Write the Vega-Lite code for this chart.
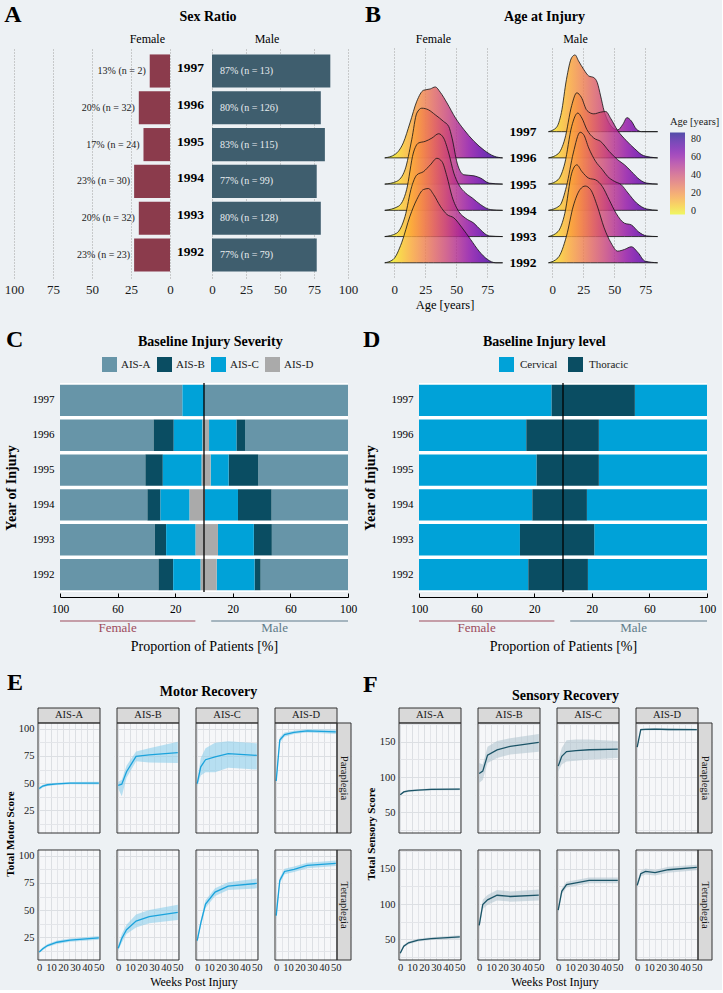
{
"$schema":"https://vega.github.io/schema/vega-lite/v6.json",
"background":"#edf1f4",
"padding":{"left":3,"top":3,"right":2,"bottom":2},
"config":{"font":"Liberation Serif","view":{"stroke":null},"axis":{"labelColor":"#1a1a1a","titleColor":"#000000"},"title":{"color":"#000000"},"legend":{"labelColor":"#1a1a1a","titleColor":"#1a1a1a"}},
"datasets":{
"dummy":[{"k":1}],
"sex":[
{"year":"1997","sex":"Female","pct":13,"label":"13% (n = 2)"},{"year":"1997","sex":"Male","pct":87,"label":"87% (n = 13)"},
{"year":"1996","sex":"Female","pct":20,"label":"20% (n = 32)"},{"year":"1996","sex":"Male","pct":80,"label":"80% (n = 126)"},
{"year":"1995","sex":"Female","pct":17,"label":"17% (n = 24)"},{"year":"1995","sex":"Male","pct":83,"label":"83% (n = 115)"},
{"year":"1994","sex":"Female","pct":23,"label":"23% (n = 30)"},{"year":"1994","sex":"Male","pct":77,"label":"77% (n = 99)"},
{"year":"1993","sex":"Female","pct":20,"label":"20% (n = 32)"},{"year":"1993","sex":"Male","pct":80,"label":"80% (n = 128)"},
{"year":"1992","sex":"Female","pct":23,"label":"23% (n = 23)"},{"year":"1992","sex":"Male","pct":77,"label":"77% (n = 79)"}
],
"ridge":[
{"sex":"M","year":1997,"age":-3,"top":1997},{"sex":"M","year":1997,"age":3.3,"top":1997.153},{"sex":"M","year":1997,"age":7.4,"top":1997.725},{"sex":"M","year":1997,"age":11.5,"top":1998.997},{"sex":"M","year":1997,"age":15.7,"top":1999.824},{"sex":"M","year":1997,"age":18.4,"top":1999.926},{"sex":"M","year":1997,"age":21.2,"top":1999.697},{"sex":"M","year":1997,"age":25.3,"top":1999.379},{"sex":"M","year":1997,"age":29.4,"top":1999.125},{"sex":"M","year":1997,"age":33.5,"top":1999.061},{"sex":"M","year":1997,"age":36.3,"top":1998.87},{"sex":"M","year":1997,"age":39,"top":1998.361},{"sex":"M","year":1997,"age":41.8,"top":1997.789},{"sex":"M","year":1997,"age":44.5,"top":1997.445},{"sex":"M","year":1997,"age":48.6,"top":1997.153},{"sex":"M","year":1997,"age":52.7,"top":1997.064},{"sex":"M","year":1997,"age":56.9,"top":1997.28},{"sex":"M","year":1997,"age":60.2,"top":1997.534},{"sex":"M","year":1997,"age":63.7,"top":1997.407},{"sex":"M","year":1997,"age":67.9,"top":1997.089},{"sex":"M","year":1997,"age":72,"top":1997},{"sex":"M","year":1997,"age":84.9,"top":1997},
{"sex":"F","year":1996,"age":-7.6,"top":1996},{"sex":"F","year":1996,"age":0.5,"top":1996.127},{"sex":"F","year":1996,"age":7.3,"top":1996.571},{"sex":"F","year":1996,"age":12.7,"top":1997.333},{"sex":"F","year":1996,"age":18.2,"top":1998.159},{"sex":"F","year":1996,"age":23.6,"top":1998.578},{"sex":"F","year":1996,"age":29,"top":1998.629},{"sex":"F","year":1996,"age":33.1,"top":1998.705},{"sex":"F","year":1996,"age":37.1,"top":1998.502},{"sex":"F","year":1996,"age":42.5,"top":1998.095},{"sex":"F","year":1996,"age":49.3,"top":1997.524},{"sex":"F","year":1996,"age":56.1,"top":1997.079},{"sex":"F","year":1996,"age":64.2,"top":1996.635},{"sex":"F","year":1996,"age":72.4,"top":1996.292},{"sex":"F","year":1996,"age":80.5,"top":1996.063},{"sex":"F","year":1996,"age":87.3,"top":1996},
{"sex":"M","year":1996,"age":-3,"top":1996},{"sex":"M","year":1996,"age":4.7,"top":1996.153},{"sex":"M","year":1996,"age":10.2,"top":1996.725},{"sex":"M","year":1996,"age":15.7,"top":1997.997},{"sex":"M","year":1996,"age":19.8,"top":1998.481},{"sex":"M","year":1996,"age":23.4,"top":1998.316},{"sex":"M","year":1996,"age":28,"top":1997.807},{"sex":"M","year":1996,"age":33.5,"top":1997.679},{"sex":"M","year":1996,"age":39,"top":1997.743},{"sex":"M","year":1996,"age":43.1,"top":1997.768},{"sex":"M","year":1996,"age":47.3,"top":1997.489},{"sex":"M","year":1996,"age":52.7,"top":1997.043},{"sex":"M","year":1996,"age":59.6,"top":1996.662},{"sex":"M","year":1996,"age":66.5,"top":1996.344},{"sex":"M","year":1996,"age":73.4,"top":1996.089},{"sex":"M","year":1996,"age":84.9,"top":1996},
{"sex":"F","year":1995,"age":-7.6,"top":1995},{"sex":"F","year":1995,"age":1.9,"top":1995.102},{"sex":"F","year":1995,"age":8.7,"top":1995.546},{"sex":"F","year":1995,"age":14.1,"top":1996.689},{"sex":"F","year":1995,"age":18.2,"top":1997.705},{"sex":"F","year":1995,"age":22.2,"top":1997.895},{"sex":"F","year":1995,"age":27.6,"top":1997.832},{"sex":"F","year":1995,"age":33.1,"top":1997.641},{"sex":"F","year":1995,"age":39.8,"top":1997.387},{"sex":"F","year":1995,"age":43.9,"top":1997.197},{"sex":"F","year":1995,"age":46.6,"top":1996.752},{"sex":"F","year":1995,"age":50.7,"top":1995.8},{"sex":"F","year":1995,"age":56.1,"top":1995.356},{"sex":"F","year":1995,"age":64.2,"top":1995.317},{"sex":"F","year":1995,"age":69.6,"top":1995.229},{"sex":"F","year":1995,"age":76.4,"top":1995.038},{"sex":"F","year":1995,"age":87.3,"top":1995},
{"sex":"M","year":1995,"age":-3,"top":1995},{"sex":"M","year":1995,"age":4.7,"top":1995.165},{"sex":"M","year":1995,"age":10.2,"top":1995.802},{"sex":"M","year":1995,"age":15.7,"top":1997.201},{"sex":"M","year":1995,"age":20.6,"top":1997.71},{"sex":"M","year":1995,"age":23.9,"top":1997.519},{"sex":"M","year":1995,"age":28,"top":1997.074},{"sex":"M","year":1995,"age":33.5,"top":1996.756},{"sex":"M","year":1995,"age":39,"top":1996.628},{"sex":"M","year":1995,"age":45.9,"top":1996.247},{"sex":"M","year":1995,"age":52.7,"top":1995.929},{"sex":"M","year":1995,"age":58.2,"top":1995.738},{"sex":"M","year":1995,"age":63.7,"top":1995.483},{"sex":"M","year":1995,"age":70.6,"top":1995.165},{"sex":"M","year":1995,"age":76.1,"top":1995.038},{"sex":"M","year":1995,"age":84.9,"top":1995},
{"sex":"F","year":1994,"age":-7.6,"top":1994},{"sex":"F","year":1994,"age":3.3,"top":1994.152},{"sex":"F","year":1994,"age":10,"top":1994.787},{"sex":"F","year":1994,"age":15.4,"top":1996.184},{"sex":"F","year":1994,"age":19.5,"top":1996.565},{"sex":"F","year":1994,"age":24.9,"top":1996.629},{"sex":"F","year":1994,"age":30.4,"top":1996.756},{"sex":"F","year":1994,"age":35.8,"top":1996.921},{"sex":"F","year":1994,"age":39.8,"top":1996.756},{"sex":"F","year":1994,"age":43.9,"top":1996.184},{"sex":"F","year":1994,"age":48,"top":1995.422},{"sex":"F","year":1994,"age":52,"top":1994.978},{"sex":"F","year":1994,"age":57.5,"top":1994.66},{"sex":"F","year":1994,"age":62.9,"top":1994.47},{"sex":"F","year":1994,"age":69.6,"top":1994.216},{"sex":"F","year":1994,"age":77.8,"top":1994.025},{"sex":"F","year":1994,"age":87.3,"top":1994},
{"sex":"M","year":1994,"age":-3,"top":1994},{"sex":"M","year":1994,"age":6,"top":1994.178},{"sex":"M","year":1994,"age":11.5,"top":1994.916},{"sex":"M","year":1994,"age":17,"top":1996.188},{"sex":"M","year":1994,"age":22.5,"top":1996.977},{"sex":"M","year":1994,"age":25.3,"top":1996.888},{"sex":"M","year":1994,"age":29.4,"top":1996.379},{"sex":"M","year":1994,"age":34.9,"top":1995.87},{"sex":"M","year":1994,"age":40.4,"top":1995.552},{"sex":"M","year":1994,"age":44.5,"top":1995.298},{"sex":"M","year":1994,"age":50,"top":1995.107},{"sex":"M","year":1994,"age":55.5,"top":1994.98},{"sex":"M","year":1994,"age":61,"top":1994.662},{"sex":"M","year":1994,"age":67.9,"top":1994.28},{"sex":"M","year":1994,"age":76.1,"top":1994.051},{"sex":"M","year":1994,"age":84.9,"top":1994},
{"sex":"F","year":1993,"age":-7.6,"top":1993},{"sex":"F","year":1993,"age":1.9,"top":1993.127},{"sex":"F","year":1993,"age":8.7,"top":1993.762},{"sex":"F","year":1993,"age":14.1,"top":1994.905},{"sex":"F","year":1993,"age":18.2,"top":1995.349},{"sex":"F","year":1993,"age":23.6,"top":1995.476},{"sex":"F","year":1993,"age":29,"top":1995.73},{"sex":"F","year":1993,"age":34.4,"top":1995.984},{"sex":"F","year":1993,"age":38.5,"top":1995.857},{"sex":"F","year":1993,"age":42.5,"top":1995.286},{"sex":"F","year":1993,"age":46.6,"top":1994.524},{"sex":"F","year":1993,"age":52,"top":1993.952},{"sex":"F","year":1993,"age":57.5,"top":1993.698},{"sex":"F","year":1993,"age":64.2,"top":1993.508},{"sex":"F","year":1993,"age":69.6,"top":1993.254},{"sex":"F","year":1993,"age":76.4,"top":1993.025},{"sex":"F","year":1993,"age":87.3,"top":1993},
{"sex":"M","year":1993,"age":-3,"top":1993},{"sex":"M","year":1993,"age":4.7,"top":1993.191},{"sex":"M","year":1993,"age":10.2,"top":1993.891},{"sex":"M","year":1993,"age":15.7,"top":1995.417},{"sex":"M","year":1993,"age":19.8,"top":1995.735},{"sex":"M","year":1993,"age":23.9,"top":1995.481},{"sex":"M","year":1993,"age":29.4,"top":1995.226},{"sex":"M","year":1993,"age":34.9,"top":1995.163},{"sex":"M","year":1993,"age":40.4,"top":1994.908},{"sex":"M","year":1993,"age":45.9,"top":1994.399},{"sex":"M","year":1993,"age":51.4,"top":1993.891},{"sex":"M","year":1993,"age":58.2,"top":1993.509},{"sex":"M","year":1993,"age":63.7,"top":1993.445},{"sex":"M","year":1993,"age":69.2,"top":1993.191},{"sex":"M","year":1993,"age":76.1,"top":1993.025},{"sex":"M","year":1993,"age":84.9,"top":1993},
{"sex":"F","year":1992,"age":-7.6,"top":1992},{"sex":"F","year":1992,"age":-0.8,"top":1992.127},{"sex":"F","year":1992,"age":6,"top":1992.762},{"sex":"F","year":1992,"age":12.7,"top":1993.778},{"sex":"F","year":1992,"age":18.2,"top":1994.413},{"sex":"F","year":1992,"age":23.6,"top":1994.794},{"sex":"F","year":1992,"age":27.6,"top":1994.832},{"sex":"F","year":1992,"age":31.7,"top":1994.603},{"sex":"F","year":1992,"age":37.1,"top":1994.159},{"sex":"F","year":1992,"age":42.5,"top":1993.841},{"sex":"F","year":1992,"age":48,"top":1993.714},{"sex":"F","year":1992,"age":54.7,"top":1993.333},{"sex":"F","year":1992,"age":61.5,"top":1992.889},{"sex":"F","year":1992,"age":68.3,"top":1992.444},{"sex":"F","year":1992,"age":75.1,"top":1992.127},{"sex":"F","year":1992,"age":81.9,"top":1992},{"sex":"F","year":1992,"age":87.3,"top":1992},
{"sex":"M","year":1992,"age":-3,"top":1992},{"sex":"M","year":1992,"age":4.7,"top":1992.191},{"sex":"M","year":1992,"age":11.5,"top":1993.018},{"sex":"M","year":1992,"age":17,"top":1994.163},{"sex":"M","year":1992,"age":22.5,"top":1994.799},{"sex":"M","year":1992,"age":26.6,"top":1994.926},{"sex":"M","year":1992,"age":30.8,"top":1994.799},{"sex":"M","year":1992,"age":36.3,"top":1994.163},{"sex":"M","year":1992,"age":41.8,"top":1993.336},{"sex":"M","year":1992,"age":47.3,"top":1992.763},{"sex":"M","year":1992,"age":52.7,"top":1992.445},{"sex":"M","year":1992,"age":58.2,"top":1992.509},{"sex":"M","year":1992,"age":63.7,"top":1992.611},{"sex":"M","year":1992,"age":69.2,"top":1992.382},{"sex":"M","year":1992,"age":74.7,"top":1992.064},{"sex":"M","year":1992,"age":84.9,"top":1992}
],
"sev":[
{"year":"1997","sex":"F","level":"AIS-A","pct":-85},{"year":"1997","sex":"F","level":"AIS-C","pct":-15},{"year":"1997","sex":"M","level":"AIS-A","pct":100},
{"year":"1996","sex":"F","level":"AIS-A","pct":-65},{"year":"1996","sex":"F","level":"AIS-B","pct":-14},{"year":"1996","sex":"F","level":"AIS-C","pct":-20},{"year":"1996","sex":"F","level":"AIS-D","pct":-1},
{"year":"1996","sex":"M","level":"AIS-A","pct":71.5},{"year":"1996","sex":"M","level":"AIS-B","pct":6},{"year":"1996","sex":"M","level":"AIS-C","pct":19},{"year":"1996","sex":"M","level":"AIS-D","pct":3.5},
{"year":"1995","sex":"F","level":"AIS-A","pct":-59.3},{"year":"1995","sex":"F","level":"AIS-B","pct":-12.1},{"year":"1995","sex":"F","level":"AIS-C","pct":-27},{"year":"1995","sex":"F","level":"AIS-D","pct":-1.6},
{"year":"1995","sex":"M","level":"AIS-A","pct":62.3},{"year":"1995","sex":"M","level":"AIS-B","pct":20.6},{"year":"1995","sex":"M","level":"AIS-C","pct":12.5},{"year":"1995","sex":"M","level":"AIS-D","pct":4.6},
{"year":"1994","sex":"F","level":"AIS-A","pct":-60.7},{"year":"1994","sex":"F","level":"AIS-B","pct":-9.1},{"year":"1994","sex":"F","level":"AIS-C","pct":-20.2},{"year":"1994","sex":"F","level":"AIS-D","pct":-10},
{"year":"1994","sex":"M","level":"AIS-A","pct":53.1},{"year":"1994","sex":"M","level":"AIS-B","pct":23.3},{"year":"1994","sex":"M","level":"AIS-C","pct":22.9},{"year":"1994","sex":"M","level":"AIS-D","pct":0.7},
{"year":"1993","sex":"F","level":"AIS-A","pct":-65.8},{"year":"1993","sex":"F","level":"AIS-B","pct":-7.9},{"year":"1993","sex":"F","level":"AIS-C","pct":-20.5},{"year":"1993","sex":"F","level":"AIS-D","pct":-5.8},
{"year":"1993","sex":"M","level":"AIS-A","pct":52.9},{"year":"1993","sex":"M","level":"AIS-B","pct":12.5},{"year":"1993","sex":"M","level":"AIS-C","pct":24.9},{"year":"1993","sex":"M","level":"AIS-D","pct":9.7},
{"year":"1992","sex":"F","level":"AIS-A","pct":-68.4},{"year":"1992","sex":"F","level":"AIS-B","pct":-10.2},{"year":"1992","sex":"F","level":"AIS-C","pct":-19.1},{"year":"1992","sex":"F","level":"AIS-D","pct":-2.3},
{"year":"1992","sex":"M","level":"AIS-A","pct":60.7},{"year":"1992","sex":"M","level":"AIS-B","pct":4.2},{"year":"1992","sex":"M","level":"AIS-C","pct":26.3},{"year":"1992","sex":"M","level":"AIS-D","pct":8.8}
],
"lvl":[
{"year":"1997","sex":"F","region":"Cervical","pct":-92.1},{"year":"1997","sex":"F","region":"Thoracic","pct":-7.9},{"year":"1997","sex":"M","region":"Cervical","pct":50.1},{"year":"1997","sex":"M","region":"Thoracic","pct":49.9},
{"year":"1996","sex":"F","region":"Cervical","pct":-74.5},{"year":"1996","sex":"F","region":"Thoracic","pct":-25.5},{"year":"1996","sex":"M","region":"Cervical","pct":75.1},{"year":"1996","sex":"M","region":"Thoracic","pct":24.9},
{"year":"1995","sex":"F","region":"Cervical","pct":-81.7},{"year":"1995","sex":"F","region":"Thoracic","pct":-18.3},{"year":"1995","sex":"M","region":"Cervical","pct":75.1},{"year":"1995","sex":"M","region":"Thoracic","pct":24.9},
{"year":"1994","sex":"F","region":"Cervical","pct":-78.7},{"year":"1994","sex":"F","region":"Thoracic","pct":-21.3},{"year":"1994","sex":"M","region":"Cervical","pct":83.4},{"year":"1994","sex":"M","region":"Thoracic","pct":16.6},
{"year":"1993","sex":"F","region":"Cervical","pct":-70.1},{"year":"1993","sex":"F","region":"Thoracic","pct":-29.9},{"year":"1993","sex":"M","region":"Cervical","pct":78.3},{"year":"1993","sex":"M","region":"Thoracic","pct":21.7},
{"year":"1992","sex":"F","region":"Cervical","pct":-75.9},{"year":"1992","sex":"F","region":"Thoracic","pct":-24.1},{"year":"1992","sex":"M","region":"Cervical","pct":82.7},{"year":"1992","sex":"M","region":"Thoracic","pct":17.3}
],
"annot":[{"sex":"Female","from":-100,"to":-6,"mid":-60},{"sex":"Male","from":5,"to":100,"mid":49}],
"motor":[
{"a":"AIS-A","t":"Paraplegia","w":0,"m":45,"lo":43.5,"hi":46.5},{"a":"AIS-A","t":"Paraplegia","w":3,"m":47.3,"lo":46,"hi":48.6},{"a":"AIS-A","t":"Paraplegia","w":7,"m":48.5,"lo":47.3,"hi":49.7},{"a":"AIS-A","t":"Paraplegia","w":15,"m":49.3,"lo":48.2,"hi":50.4},{"a":"AIS-A","t":"Paraplegia","w":26,"m":50,"lo":48.9,"hi":51.1},{"a":"AIS-A","t":"Paraplegia","w":50,"m":50,"lo":48.8,"hi":51.2},
{"a":"AIS-B","t":"Paraplegia","w":0,"m":48,"lo":45,"hi":51},{"a":"AIS-B","t":"Paraplegia","w":3,"m":49,"lo":38,"hi":53},{"a":"AIS-B","t":"Paraplegia","w":7,"m":60.5,"lo":55,"hi":66},{"a":"AIS-B","t":"Paraplegia","w":15,"m":74.5,"lo":70,"hi":79},{"a":"AIS-B","t":"Paraplegia","w":26,"m":76,"lo":69,"hi":82},{"a":"AIS-B","t":"Paraplegia","w":50,"m":78,"lo":68.5,"hi":88},
{"a":"AIS-C","t":"Paraplegia","w":0,"m":49.5,"lo":47,"hi":52.5},{"a":"AIS-C","t":"Paraplegia","w":3,"m":65,"lo":57,"hi":73},{"a":"AIS-C","t":"Paraplegia","w":7,"m":71.5,"lo":60,"hi":82},{"a":"AIS-C","t":"Paraplegia","w":15,"m":74,"lo":60,"hi":87},{"a":"AIS-C","t":"Paraplegia","w":26,"m":77,"lo":64,"hi":88.5},{"a":"AIS-C","t":"Paraplegia","w":50,"m":75.5,"lo":62.5,"hi":86.5},
{"a":"AIS-D","t":"Paraplegia","w":0,"m":52,"lo":49,"hi":55},{"a":"AIS-D","t":"Paraplegia","w":3,"m":89.5,"lo":87,"hi":92},{"a":"AIS-D","t":"Paraplegia","w":7,"m":94.5,"lo":92.5,"hi":96.5},{"a":"AIS-D","t":"Paraplegia","w":15,"m":96.5,"lo":95,"hi":98},{"a":"AIS-D","t":"Paraplegia","w":26,"m":98,"lo":96.5,"hi":99.5},{"a":"AIS-D","t":"Paraplegia","w":50,"m":97,"lo":95,"hi":99},
{"a":"AIS-A","t":"Tetraplegia","w":0,"m":11.5,"lo":10.5,"hi":12.5},{"a":"AIS-A","t":"Tetraplegia","w":3,"m":14.5,"lo":13.2,"hi":15.8},{"a":"AIS-A","t":"Tetraplegia","w":7,"m":17.5,"lo":16.2,"hi":18.8},{"a":"AIS-A","t":"Tetraplegia","w":15,"m":20.5,"lo":19,"hi":22},{"a":"AIS-A","t":"Tetraplegia","w":26,"m":22.5,"lo":21,"hi":24},{"a":"AIS-A","t":"Tetraplegia","w":50,"m":24.5,"lo":22.8,"hi":26.2},
{"a":"AIS-B","t":"Tetraplegia","w":0,"m":15,"lo":13,"hi":17},{"a":"AIS-B","t":"Tetraplegia","w":3,"m":24,"lo":20,"hi":28},{"a":"AIS-B","t":"Tetraplegia","w":7,"m":32,"lo":28,"hi":36.5},{"a":"AIS-B","t":"Tetraplegia","w":15,"m":40,"lo":34,"hi":46},{"a":"AIS-B","t":"Tetraplegia","w":26,"m":44,"lo":38,"hi":50},{"a":"AIS-B","t":"Tetraplegia","w":50,"m":48,"lo":41,"hi":55},
{"a":"AIS-C","t":"Tetraplegia","w":0,"m":22,"lo":20,"hi":24.5},{"a":"AIS-C","t":"Tetraplegia","w":3,"m":38,"lo":35,"hi":41},{"a":"AIS-C","t":"Tetraplegia","w":7,"m":55.5,"lo":52,"hi":59},{"a":"AIS-C","t":"Tetraplegia","w":15,"m":66.5,"lo":63,"hi":70},{"a":"AIS-C","t":"Tetraplegia","w":26,"m":72,"lo":68.5,"hi":75.5},{"a":"AIS-C","t":"Tetraplegia","w":50,"m":74.5,"lo":70,"hi":79},
{"a":"AIS-D","t":"Tetraplegia","w":0,"m":45,"lo":41,"hi":49},{"a":"AIS-D","t":"Tetraplegia","w":3,"m":77.3,"lo":74.5,"hi":80},{"a":"AIS-D","t":"Tetraplegia","w":7,"m":85.5,"lo":83,"hi":88},{"a":"AIS-D","t":"Tetraplegia","w":15,"m":87.5,"lo":85,"hi":90},{"a":"AIS-D","t":"Tetraplegia","w":26,"m":91,"lo":88.5,"hi":93.5},{"a":"AIS-D","t":"Tetraplegia","w":50,"m":93,"lo":90.5,"hi":95.5}
],
"sensory":[
{"a":"AIS-A","t":"Paraplegia","w":0,"m":75,"lo":73.5,"hi":76.5},{"a":"AIS-A","t":"Paraplegia","w":3,"m":79,"lo":77.5,"hi":80.5},{"a":"AIS-A","t":"Paraplegia","w":7,"m":80.5,"lo":79,"hi":82},{"a":"AIS-A","t":"Paraplegia","w":15,"m":81.5,"lo":80,"hi":83},{"a":"AIS-A","t":"Paraplegia","w":26,"m":82.8,"lo":81.2,"hi":84.4},{"a":"AIS-A","t":"Paraplegia","w":50,"m":83,"lo":81.3,"hi":84.7},
{"a":"AIS-B","t":"Paraplegia","w":0,"m":105,"lo":92,"hi":120},{"a":"AIS-B","t":"Paraplegia","w":3,"m":108.5,"lo":96,"hi":118},{"a":"AIS-B","t":"Paraplegia","w":7,"m":131,"lo":120,"hi":143},{"a":"AIS-B","t":"Paraplegia","w":15,"m":138.5,"lo":127,"hi":151},{"a":"AIS-B","t":"Paraplegia","w":26,"m":143.5,"lo":132,"hi":155},{"a":"AIS-B","t":"Paraplegia","w":50,"m":149,"lo":136,"hi":161},
{"a":"AIS-C","t":"Paraplegia","w":0,"m":115.5,"lo":108,"hi":123},{"a":"AIS-C","t":"Paraplegia","w":3,"m":129.5,"lo":118,"hi":141},{"a":"AIS-C","t":"Paraplegia","w":7,"m":136,"lo":122,"hi":152},{"a":"AIS-C","t":"Paraplegia","w":15,"m":137.5,"lo":123,"hi":153},{"a":"AIS-C","t":"Paraplegia","w":26,"m":138.7,"lo":125,"hi":153},{"a":"AIS-C","t":"Paraplegia","w":50,"m":139.5,"lo":127,"hi":151},
{"a":"AIS-D","t":"Paraplegia","w":0,"m":142.5,"lo":140.5,"hi":144.5},{"a":"AIS-D","t":"Paraplegia","w":3,"m":167,"lo":165.5,"hi":168.5},{"a":"AIS-D","t":"Paraplegia","w":7,"m":167.5,"lo":166,"hi":169},{"a":"AIS-D","t":"Paraplegia","w":15,"m":167.8,"lo":166.3,"hi":169.3},{"a":"AIS-D","t":"Paraplegia","w":26,"m":167.3,"lo":165.8,"hi":168.8},{"a":"AIS-D","t":"Paraplegia","w":50,"m":167,"lo":165.5,"hi":168.5},
{"a":"AIS-A","t":"Tetraplegia","w":0,"m":30.5,"lo":28.5,"hi":32.5},{"a":"AIS-A","t":"Tetraplegia","w":3,"m":40.5,"lo":38.5,"hi":42.5},{"a":"AIS-A","t":"Tetraplegia","w":7,"m":45.3,"lo":43.3,"hi":47.3},{"a":"AIS-A","t":"Tetraplegia","w":15,"m":49,"lo":47,"hi":51},{"a":"AIS-A","t":"Tetraplegia","w":26,"m":51.3,"lo":49.3,"hi":53.3},{"a":"AIS-A","t":"Tetraplegia","w":50,"m":53.8,"lo":51.5,"hi":56},
{"a":"AIS-B","t":"Tetraplegia","w":0,"m":70,"lo":64,"hi":76},{"a":"AIS-B","t":"Tetraplegia","w":3,"m":99.5,"lo":93,"hi":106},{"a":"AIS-B","t":"Tetraplegia","w":7,"m":106,"lo":99,"hi":113},{"a":"AIS-B","t":"Tetraplegia","w":15,"m":112.5,"lo":105,"hi":120},{"a":"AIS-B","t":"Tetraplegia","w":26,"m":110.8,"lo":103.5,"hi":118},{"a":"AIS-B","t":"Tetraplegia","w":50,"m":112.8,"lo":105,"hi":120.5},
{"a":"AIS-C","t":"Tetraplegia","w":0,"m":91.5,"lo":87.5,"hi":95.5},{"a":"AIS-C","t":"Tetraplegia","w":3,"m":118,"lo":114,"hi":122},{"a":"AIS-C","t":"Tetraplegia","w":7,"m":127.5,"lo":123.5,"hi":131.5},{"a":"AIS-C","t":"Tetraplegia","w":15,"m":130,"lo":126,"hi":134},{"a":"AIS-C","t":"Tetraplegia","w":26,"m":133.5,"lo":129.5,"hi":137.5},{"a":"AIS-C","t":"Tetraplegia","w":50,"m":133.6,"lo":129.5,"hi":137.7},
{"a":"AIS-D","t":"Tetraplegia","w":0,"m":126.5,"lo":122,"hi":131},{"a":"AIS-D","t":"Tetraplegia","w":3,"m":143,"lo":139,"hi":147},{"a":"AIS-D","t":"Tetraplegia","w":7,"m":146.2,"lo":142,"hi":150.4},{"a":"AIS-D","t":"Tetraplegia","w":15,"m":144.4,"lo":140.5,"hi":148.3},{"a":"AIS-D","t":"Tetraplegia","w":26,"m":148.6,"lo":144.5,"hi":152.7},{"a":"AIS-D","t":"Tetraplegia","w":50,"m":151.9,"lo":148,"hi":155.8}
]
},
"resolve":{"scale":{"color":"independent"},"legend":{"color":"independent"}},
"align":"none",
"spacing":18,
"vconcat":[
{"resolve":{"scale":{"color":"independent"},"legend":{"color":"independent"}},"spacing":17,"align":"none",
"vconcat":[
{"resolve":{"scale":{"color":"independent"},"legend":{"color":"independent"}},"spacing":0,"align":"none",
"hconcat":[
{"width":1,"height":1,"data":{"name":"dummy"},"mark":{"type":"point","size":0,"opacity":0}},
{"resolve":{"scale":{"color":"independent"},"legend":{"color":"independent"}},"spacing":7,"align":"none",
"hconcat":[
{"title":{"text":"A","anchor":"start","frame":"bounds","fontSize":24,"fontWeight":"bold","offset":-17},
"resolve":{"scale":{"color":"independent"},"legend":{"color":"independent"}},
"vconcat":[{"title":{"text":"Sex Ratio","anchor":"middle","frame":"bounds","fontSize":14,"fontWeight":"bold","offset":9,"dx":27},
"resolve":{"scale":{"color":"independent"},"legend":{"color":"independent"}},
"spacing":2,"align":"none",
"hconcat":[
{"width":156,"height":230,
"title":{"text":"Female","fontSize":12,"fontWeight":"normal","offset":2,"anchor":"end","frame":"group","dx":-5},
"data":{"name":"sex"},"transform":[{"filter":"datum.sex === 'Female'"}],
"encoding":{"y":{"field":"year","type":"nominal","sort":"descending","axis":null,"scale":{"paddingInner":0.1,"paddingOuter":0.175}},
"x":{"field":"pct","type":"quantitative","scale":{"domain":[0,100],"reverse":true,"nice":false},"axis":{"values":[0,25,50,75,100],"title":null,"grid":true,"gridDash":[1,2],"gridColor":"#a0a0a0","domain":false,"ticks":false,"labelFontSize":13,"labelPadding":5,"labelFlush":false}}},
"layer":[{"mark":{"type":"bar","color":"#8b3b4c"}},
{"mark":{"type":"text","align":"right","dx":-4,"fontSize":10,"color":"#1a1a1a"},"encoding":{"text":{"field":"label"}}}]},
{"width":136,"height":230,
"title":{"text":"Male","fontSize":12,"fontWeight":"normal","offset":2,"frame":"group","dx":-13},
"data":{"name":"sex"},"transform":[{"filter":"datum.sex === 'Male'"}],
"encoding":{"y":{"field":"year","type":"nominal","sort":"descending","scale":{"paddingInner":0.1,"paddingOuter":0.175},"axis":{"title":null,"domain":false,"ticks":false,"labelFontSize":13.5,"labelFontWeight":"bold","labelAlign":"center","labelPadding":22,"labelColor":"#000000","labelOffset":-3}},
"x":{"field":"pct","type":"quantitative","scale":{"domain":[0,100],"nice":false},"axis":{"values":[0,25,50,75,100],"title":null,"grid":true,"gridDash":[1,2],"gridColor":"#a0a0a0","domain":false,"ticks":false,"labelFontSize":13,"labelPadding":5,"labelFlush":false}}},
"layer":[{"mark":{"type":"bar","color":"#3f5e6e"}},
{"mark":{"type":"text","align":"left","dx":8,"fontSize":10,"color":"#e8edf0"},"encoding":{"x":{"datum":0},"text":{"field":"label"}}}]}
]}]},
{"title":{"text":"B","anchor":"start","frame":"bounds","fontSize":24,"fontWeight":"bold","offset":-17,"dx":-18},
"resolve":{"scale":{"color":"independent"},"legend":{"color":"independent"}},
"vconcat":[{"title":{"text":"Age at Injury","anchor":"middle","frame":"bounds","fontSize":14,"fontWeight":"bold","offset":9,"dx":-7},
"resolve":{"scale":{"color":"independent"},"legend":{"color":"independent"}},
"spacing":3,"align":"none",
"hconcat":[
{"width":123,"height":230,
"title":{"text":"Female","fontSize":12,"fontWeight":"normal","offset":2,"frame":"group","dx":-11},
"data":{"name":"ridge"},"transform":[{"filter":"datum.sex === 'F'"}],
"mark":{"type":"area","interpolate":"monotone","stroke":"#111111","strokeWidth":0.8,"fillOpacity":0.8,
"fill":{"gradient":"linear","x1":0,"y1":0,"x2":1,"y2":0,"stops":[{"offset":0,"color":"#f0f921"},{"offset":0.038,"color":"#f0f921"},{"offset":0.134,"color":"#fcce25"},{"offset":0.231,"color":"#fca636"},{"offset":0.327,"color":"#f2844b"},{"offset":0.424,"color":"#e16462"},{"offset":0.52,"color":"#cc4778"},{"offset":0.616,"color":"#b12a90"},{"offset":0.713,"color":"#8f0da4"},{"offset":0.809,"color":"#6a00a8"},{"offset":0.906,"color":"#41049d"},{"offset":1,"color":"#0d0887"}]}},
"encoding":{"x":{"field":"age","type":"quantitative","scale":{"domain":[-9,90],"nice":false},"axis":{"values":[0,25,50,75],"title":"Age [years]","titleFontSize":12.5,"titleFontWeight":"normal","titlePadding":2,"grid":true,"gridDash":[1,2],"gridColor":"#a0a0a0","domain":false,"ticks":false,"labelFontSize":13,"labelPadding":5}},
"y":{"field":"top","type":"quantitative","stack":null,"scale":{"domain":[1991.42,2000.19],"nice":false,"zero":false},"axis":null},
"y2":{"field":"year"},
"detail":{"field":"year","type":"nominal"}}},
{"width":123,"height":230,
"title":{"text":"Male","fontSize":12,"fontWeight":"normal","offset":2,"frame":"group","dx":-27},
"data":{"name":"ridge"},"transform":[{"filter":"datum.sex === 'M'"}],
"layer":[
{"mark":{"type":"area","interpolate":"monotone","stroke":"#111111","strokeWidth":0.8,"fillOpacity":0.8,
"fill":{"gradient":"linear","x1":0,"y1":0,"x2":1,"y2":0,"stops":[{"offset":0,"color":"#f0f921"},{"offset":0.093,"color":"#fcce25"},{"offset":0.197,"color":"#fca636"},{"offset":0.301,"color":"#f2844b"},{"offset":0.405,"color":"#e16462"},{"offset":0.509,"color":"#cc4778"},{"offset":0.613,"color":"#b12a90"},{"offset":0.717,"color":"#8f0da4"},{"offset":0.821,"color":"#6a00a8"},{"offset":0.925,"color":"#41049d"},{"offset":1,"color":"#1a0786"}]}},
"encoding":{"x":{"field":"age","type":"quantitative","scale":{"domain":[-9,90],"nice":false},"axis":{"values":[0,25,50,75],"title":null,"grid":true,"gridDash":[1,2],"gridColor":"#a0a0a0","domain":false,"ticks":false,"labelFontSize":13,"labelPadding":5}},
"y":{"field":"top","type":"quantitative","stack":null,"scale":{"domain":[1991.42,2000.19],"nice":false,"zero":false},"axis":{"values":[1992,1993,1994,1995,1996,1997],"format":"d","title":null,"domain":false,"ticks":false,"grid":false,"labelFontSize":13.5,"labelFontWeight":"bold","labelPadding":5,"labelColor":"#000000"}},
"y2":{"field":"year"},
"detail":{"field":"year","type":"nominal"}}},
{"mark":{"type":"point","size":0},
"encoding":{"x":{"field":"age","type":"quantitative"},"y":{"field":"top","type":"quantitative"},
"color":{"field":"age","type":"quantitative","scale":{"scheme":"plasma","reverse":true,"domain":[-4,87.5]},
"legend":{"title":"Age [years]","orient":"none","legendX":129,"legendY":69,"gradientLength":82,"gradientThickness":15,"values":[0,20,40,60,80],"titleFontSize":10.5,"titleFontWeight":"normal","labelFontSize":10,"labelOffset":6,"titlePadding":5,"gradientStrokeWidth":0}}}}
]}
]}]}
]}
]},
{"resolve":{"scale":{"color":"independent"},"legend":{"color":"independent"}},"spacing":0,"align":"none",
"hconcat":[
{"width":1,"height":1,"data":{"name":"dummy"},"mark":{"type":"point","size":0,"opacity":0}},
{"resolve":{"scale":{"color":"independent"},"legend":{"color":"independent"}},"spacing":6,"align":"none",
"hconcat":[
{"title":{"text":"C","anchor":"start","frame":"bounds","fontSize":24,"fontWeight":"bold","offset":-17,"dx":2},
"resolve":{"scale":{"color":"independent"},"legend":{"color":"independent"}},
"vconcat":[{"title":{"text":"Baseline Injury Severity","anchor":"middle","frame":"bounds","fontSize":14,"fontWeight":"bold","offset":8,"dx":30},
"resolve":{"scale":{"color":"independent"},"legend":{"color":"independent"}},
"spacing":5,
"vconcat":[
{"width":288,"height":209,"view":{"fill":"#ffffff"},
"layer":[
{"data":{"name":"sev"},"mark":{"type":"bar"},
"encoding":{"y":{"field":"year","type":"nominal","sort":"descending","scale":{"paddingInner":0.1,"paddingOuter":0.05},"axis":{"title":"Year of Injury","titleFontSize":14,"titleFontWeight":"bold","titlePadding":14,"labelFontSize":11,"labelPadding":6,"domain":false,"ticks":false,"labelColor":"#000000"}},
"x":{"field":"pct","type":"quantitative","stack":"zero","scale":{"domain":[-100,100],"nice":false},"axis":{"values":[-100,-80,-60,-40,-20,0,20,40,60,80,100],"labelExpr":"format(abs(datum.value), 'd')","title":null,"grid":false,"domain":true,"domainColor":"#000000","ticks":true,"tickColor":"#000000","tickSize":-4,"offset":5,"labelFontSize":11.5,"labelPadding":10,"labelColor":"#000000","labelFlush":false}},
"color":{"field":"level","type":"nominal","scale":{"domain":["AIS-A","AIS-B","AIS-C","AIS-D"],"range":["#6795a8","#0a4d62","#00a2d8","#aaaaaa"]},"legend":{"title":null,"orient":"none","direction":"horizontal","legendX":42,"legendY":-26,"symbolType":"square","symbolSize":225,"symbolStrokeWidth":0,"symbolOpacity":1,"labelFontSize":11,"labelOffset":4,"columnPadding":6}},
"order":{"field":"level","sort":"descending"}}},
{"data":{"values":[{"z":0}]},"mark":{"type":"rule","color":"#000000","strokeWidth":1.3},"encoding":{"x":{"field":"z","type":"quantitative"}}}
]},
{"width":288,"height":14,"data":{"name":"annot"},
"layer":[
{"mark":{"type":"rule","strokeWidth":1.2},"encoding":{"x":{"field":"from","type":"quantitative","scale":{"domain":[-100,100],"nice":false},"axis":{"title":"Proportion of Patients [%]","titleFontSize":14,"titleFontWeight":"normal","titlePadding":4,"labels":false,"ticks":false,"domain":false,"grid":false}},"x2":{"field":"to"},"y":{"datum":1,"type":"quantitative","scale":{"domain":[0,1]},"axis":null},"color":{"condition":{"test":"datum.sex === 'Female'","value":"#9e4c5c"},"value":"#5f7b89"}}},
{"mark":{"type":"text","baseline":"bottom","fontSize":13},"encoding":{"x":{"field":"mid","type":"quantitative"},"y":{"datum":0,"type":"quantitative"},"text":{"field":"sex"},"color":{"condition":{"test":"datum.sex === 'Female'","value":"#9e4c5c"},"value":"#5f7b89"}}}
]}
]}]},
{"title":{"text":"D","anchor":"start","frame":"bounds","fontSize":24,"fontWeight":"bold","offset":-17,"dx":0},
"resolve":{"scale":{"color":"independent"},"legend":{"color":"independent"}},
"vconcat":[{"title":{"text":"Baseline Injury level","anchor":"middle","frame":"bounds","fontSize":14,"fontWeight":"bold","offset":8,"dx":5},
"resolve":{"scale":{"color":"independent"},"legend":{"color":"independent"}},
"spacing":5,
"vconcat":[
{"width":288,"height":209,"view":{"fill":"#ffffff"},
"layer":[
{"data":{"name":"lvl"},"mark":{"type":"bar"},
"encoding":{"y":{"field":"year","type":"nominal","sort":"descending","scale":{"paddingInner":0.1,"paddingOuter":0.05},"axis":{"title":"Year of Injury","titleFontSize":14,"titleFontWeight":"bold","titlePadding":14,"labelFontSize":11,"labelPadding":6,"domain":false,"ticks":false,"labelColor":"#000000"}},
"x":{"field":"pct","type":"quantitative","stack":"zero","scale":{"domain":[-100,100],"nice":false},"axis":{"values":[-100,-80,-60,-40,-20,0,20,40,60,80,100],"labelExpr":"format(abs(datum.value), 'd')","title":null,"grid":false,"domain":true,"domainColor":"#000000","ticks":true,"tickColor":"#000000","tickSize":-4,"offset":5,"labelFontSize":11.5,"labelPadding":10,"labelColor":"#000000","labelFlush":false}},
"color":{"field":"region","type":"nominal","scale":{"domain":["Cervical","Thoracic"],"range":["#00a2d8","#0a4d62"]},"legend":{"title":null,"orient":"none","direction":"horizontal","legendX":80,"legendY":-26,"symbolType":"square","symbolSize":225,"symbolStrokeWidth":0,"symbolOpacity":1,"labelFontSize":11,"labelOffset":6,"columnPadding":10}},
"order":{"field":"region","sort":"descending"}}},
{"data":{"values":[{"z":0}]},"mark":{"type":"rule","color":"#000000","strokeWidth":1.3},"encoding":{"x":{"field":"z","type":"quantitative"}}}
]},
{"width":288,"height":14,"data":{"name":"annot"},
"layer":[
{"mark":{"type":"rule","strokeWidth":1.2},"encoding":{"x":{"field":"from","type":"quantitative","scale":{"domain":[-100,100],"nice":false},"axis":{"title":"Proportion of Patients [%]","titleFontSize":14,"titleFontWeight":"normal","titlePadding":4,"labels":false,"ticks":false,"domain":false,"grid":false}},"x2":{"field":"to"},"y":{"datum":1,"type":"quantitative","scale":{"domain":[0,1]},"axis":null},"color":{"condition":{"test":"datum.sex === 'Female'","value":"#9e4c5c"},"value":"#5f7b89"}}},
{"mark":{"type":"text","baseline":"bottom","fontSize":13},"encoding":{"x":{"field":"mid","type":"quantitative"},"y":{"datum":0,"type":"quantitative"},"text":{"field":"sex"},"color":{"condition":{"test":"datum.sex === 'Female'","value":"#9e4c5c"},"value":"#5f7b89"}}}
]}
]}]}
]}
]}
]},
{"resolve":{"scale":{"color":"independent"},"legend":{"color":"independent"}},"spacing":0,"align":"none",
"hconcat":[
{"width":1,"height":1,"data":{"name":"dummy"},"mark":{"type":"point","size":0,"opacity":0}},
{"resolve":{"scale":{"color":"independent"},"legend":{"color":"independent"}},"spacing":10,"align":"none",
"hconcat":[
{"title":{"text":"E","anchor":"start","frame":"bounds","fontSize":24,"fontWeight":"bold","offset":-10,"dx":2},
"resolve":{"scale":{"color":"independent"},"legend":{"color":"independent"}},
"vconcat":[{"title":{"text":"Motor Recovery","anchor":"middle","frame":"bounds","fontSize":14,"fontWeight":"bold","offset":8,"dx":30},
"data":{"name":"motor"},
"facet":{"row":{"field":"t","type":"nominal","title":"Total Motor Score","header":{"labels":false,"titleFontSize":11,"titleFontWeight":"bold","titlePadding":-8}},"column":{"field":"a","type":"nominal","title":"Weeks Post Injury","header":{"labels":false,"titleOrient":"bottom","titleFontSize":12,"titleFontWeight":"normal","titlePadding":-6}}},
"spacing":{"row":0,"column":0},
"spec":{"width":76,"height":125,"view":{"fill":"#f6f7f9"},
"resolve":{"axis":{"x":"independent","y":"independent"}},
"layer":[
{"transform":[{"aggregate":[{"op":"count","as":"n"}],"groupby":["a","t"]}],"mark":{"type":"rect","fill":"#edf1f4"},"encoding":{"x":{"datum":51,"axis":null},"x2":{"datum":62.74},"y":{"datum":4.2,"axis":null},"y2":{"datum":118.97}}},
{"transform":[{"aggregate":[{"op":"count","as":"n"}],"groupby":["a","t"]}],"mark":{"type":"rect","strokeWidth":1},"encoding":{"x":{"datum":-1,"axis":null},"x2":{"datum":51},"y":{"datum":105.2,"axis":null},"y2":{"datum":118.97},"fill":{"condition":{"test":"datum.t === 'Paraplegia'","value":"#d9d9d9"},"value":"#edf1f4"},"stroke":{"condition":{"test":"datum.t === 'Paraplegia'","value":"#333333"},"value":"transparent"}}},
{"transform":[{"aggregate":[{"op":"count","as":"n"}],"groupby":["a","t"]}],"mark":{"type":"rect","strokeWidth":1},"encoding":{"x":{"datum":51,"axis":null},"x2":{"datum":62.74},"y":{"datum":4.2,"axis":null},"y2":{"datum":105.2},"fill":{"condition":{"test":"datum.a === 'AIS-D'","value":"#d9d9d9"},"value":"#edf1f4"},"stroke":{"condition":{"test":"datum.a === 'AIS-D'","value":"#333333"},"value":"transparent"}}},
{"transform":[{"filter":"datum.t === 'Paraplegia'"},{"aggregate":[{"op":"count","as":"n"}],"groupby":["a","t"]}],"mark":{"type":"text","fontSize":10.5,"color":"#1a1a1a"},"encoding":{"x":{"datum":25,"axis":null},"y":{"datum":112.1,"axis":null},"text":{"field":"a"}}},
{"transform":[{"filter":"datum.a === 'AIS-D'"},{"aggregate":[{"op":"count","as":"n"}],"groupby":["a","t"]}],"mark":{"type":"text","fontSize":10.5,"angle":90,"color":"#1a1a1a"},"encoding":{"x":{"datum":56.87,"axis":null},"y":{"datum":54.7,"axis":null},"text":{"field":"t"}}},
{"mark":{"type":"area","color":"#8dcfeb","opacity":0.6},"encoding":{"x":{"field":"w","type":"quantitative","scale":{"domain":[-1,62.74],"nice":false},"axis":{"values":[0,10,20,30,40,50],"format":"d","title":null,"grid":true,"gridColor":"#dcdfe3","domain":false,"ticks":false,"labelFontSize":10.5,"labelPadding":1,"labelFlush":false}},"y":{"field":"lo","type":"quantitative","scale":{"domain":[4.2,118.97],"nice":false,"zero":false},"axis":{"values":[25,50,75,100],"format":"d","title":null,"grid":true,"gridColor":"#dcdfe3","domain":false,"ticks":false,"labelFontSize":10.5,"labelPadding":2}},"y2":{"field":"hi"}}},
{"mark":{"type":"line","color":"#1ba3dc","strokeWidth":1.3},"encoding":{"x":{"field":"w","type":"quantitative","axis":{"orient":"top","values":[5,15,25,35,45],"labels":false,"ticks":false,"domain":false,"grid":true,"gridColor":"#e3e5e9","title":null,"minExtent":0,"maxExtent":0,"offset":0}},"y":{"field":"m","type":"quantitative","axis":{"orient":"right","values":[12.5,37.5,62.5,87.5],"labels":false,"ticks":false,"domain":false,"grid":true,"gridColor":"#e3e5e9","title":null,"minExtent":0,"maxExtent":0,"offset":0}}}},
{"transform":[{"aggregate":[{"op":"count","as":"n"}],"groupby":["a","t"]}],"mark":{"type":"rect","fill":"transparent","stroke":"#333333","strokeWidth":1},"encoding":{"x":{"datum":-1,"axis":null},"x2":{"datum":51},"y":{"datum":4.2,"axis":null},"y2":{"datum":105.2}}}
]}}]},
{"title":{"text":"F","anchor":"start","frame":"bounds","fontSize":24,"fontWeight":"bold","offset":-8,"dx":-3},
"resolve":{"scale":{"color":"independent"},"legend":{"color":"independent"}},
"vconcat":[{"title":{"text":"Sensory Recovery","anchor":"middle","frame":"bounds","fontSize":14,"fontWeight":"bold","offset":4,"dx":26},
"data":{"name":"sensory"},
"facet":{"row":{"field":"t","type":"nominal","title":"Total Sensory Score","header":{"labels":false,"titleFontSize":11,"titleFontWeight":"bold","titlePadding":-8}},"column":{"field":"a","type":"nominal","title":"Weeks Post Injury","header":{"labels":false,"titleOrient":"bottom","titleFontSize":12,"titleFontWeight":"normal","titlePadding":-6}}},
"spacing":{"row":0,"column":0},
"spec":{"width":76,"height":125,"view":{"fill":"#f6f7f9"},
"resolve":{"axis":{"x":"independent","y":"independent"}},
"layer":[
{"transform":[{"aggregate":[{"op":"count","as":"n"}],"groupby":["a","t"]}],"mark":{"type":"rect","fill":"#edf1f4"},"encoding":{"x":{"datum":51,"axis":null},"x2":{"datum":62.74},"y":{"datum":21,"axis":null},"y2":{"datum":197.7}}},
{"transform":[{"aggregate":[{"op":"count","as":"n"}],"groupby":["a","t"]}],"mark":{"type":"rect","strokeWidth":1},"encoding":{"x":{"datum":-1,"axis":null},"x2":{"datum":51},"y":{"datum":176.5,"axis":null},"y2":{"datum":197.7},"fill":{"condition":{"test":"datum.t === 'Paraplegia'","value":"#d9d9d9"},"value":"#edf1f4"},"stroke":{"condition":{"test":"datum.t === 'Paraplegia'","value":"#333333"},"value":"transparent"}}},
{"transform":[{"aggregate":[{"op":"count","as":"n"}],"groupby":["a","t"]}],"mark":{"type":"rect","strokeWidth":1},"encoding":{"x":{"datum":51,"axis":null},"x2":{"datum":62.74},"y":{"datum":21,"axis":null},"y2":{"datum":176.5},"fill":{"condition":{"test":"datum.a === 'AIS-D'","value":"#d9d9d9"},"value":"#edf1f4"},"stroke":{"condition":{"test":"datum.a === 'AIS-D'","value":"#333333"},"value":"transparent"}}},
{"transform":[{"filter":"datum.t === 'Paraplegia'"},{"aggregate":[{"op":"count","as":"n"}],"groupby":["a","t"]}],"mark":{"type":"text","fontSize":10.5,"color":"#1a1a1a"},"encoding":{"x":{"datum":25,"axis":null},"y":{"datum":187.1,"axis":null},"text":{"field":"a"}}},
{"transform":[{"filter":"datum.a === 'AIS-D'"},{"aggregate":[{"op":"count","as":"n"}],"groupby":["a","t"]}],"mark":{"type":"text","fontSize":10.5,"angle":90,"color":"#1a1a1a"},"encoding":{"x":{"datum":56.87,"axis":null},"y":{"datum":98.75,"axis":null},"text":{"field":"t"}}},
{"mark":{"type":"area","color":"#b4c7d1","opacity":0.6},"encoding":{"x":{"field":"w","type":"quantitative","scale":{"domain":[-1,62.74],"nice":false},"axis":{"values":[0,10,20,30,40,50],"format":"d","title":null,"grid":true,"gridColor":"#dcdfe3","domain":false,"ticks":false,"labelFontSize":10.5,"labelPadding":1,"labelFlush":false}},"y":{"field":"lo","type":"quantitative","scale":{"domain":[21,197.7],"nice":false,"zero":false},"axis":{"values":[50,100,150],"format":"d","title":null,"grid":true,"gridColor":"#dcdfe3","domain":false,"ticks":false,"labelFontSize":10.5,"labelPadding":2}},"y2":{"field":"hi"}}},
{"mark":{"type":"line","color":"#1b5467","strokeWidth":1.3},"encoding":{"x":{"field":"w","type":"quantitative","axis":{"orient":"top","values":[5,15,25,35,45],"labels":false,"ticks":false,"domain":false,"grid":true,"gridColor":"#e3e5e9","title":null,"minExtent":0,"maxExtent":0,"offset":0}},"y":{"field":"m","type":"quantitative","axis":{"orient":"right","values":[25,75,125,175],"labels":false,"ticks":false,"domain":false,"grid":true,"gridColor":"#e3e5e9","title":null,"minExtent":0,"maxExtent":0,"offset":0}}}},
{"transform":[{"aggregate":[{"op":"count","as":"n"}],"groupby":["a","t"]}],"mark":{"type":"rect","fill":"transparent","stroke":"#333333","strokeWidth":1},"encoding":{"x":{"datum":-1,"axis":null},"x2":{"datum":51},"y":{"datum":21,"axis":null},"y2":{"datum":176.5}}}
]}}]}
]}
]}
]
}
